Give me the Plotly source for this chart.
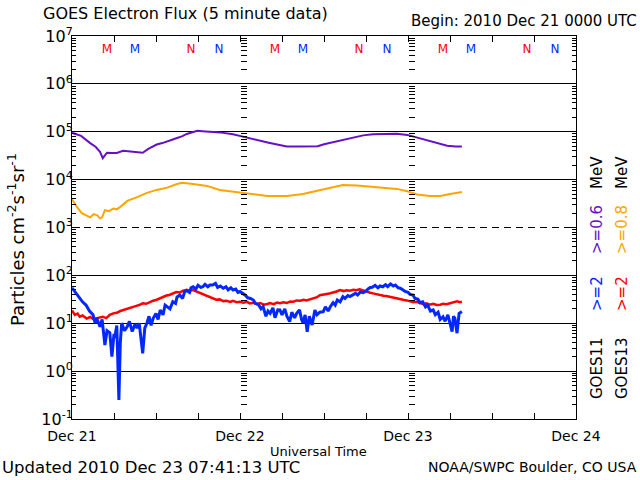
import pandas as pd
import plotly.graph_objects as go

START = pd.Timestamp("2010-12-21 00:00")
END = pd.Timestamp("2010-12-24 00:00")

# ---- data (hours after START, flux values) ----
purple_h = [0.0, 1.3, 2.6, 3.4, 4.0, 4.4, 4.7, 5.0, 5.6, 6.4, 7.3, 8.0, 8.7, 9.4, 10.1, 10.9, 11.5, 12.1, 12.9, 13.6, 14.3, 15.0,
            15.7, 16.4, 17.1, 17.9, 18.6, 19.3, 20.2, 21.1, 22.0, 23.0, 24.4, 25.6, 26.9, 28.1, 29.3, 30.7, 32.6, 35.1,
            36.0, 36.9, 38.3, 39.7, 41.6, 43.0, 45.0, 46.4, 47.9, 49.3, 50.7, 52.1, 53.6, 54.8, 55.7]
purple_v = [9.5e4, 8.2e4, 5.8e4, 4.8e4, 3.8e4, 2.8e4, 3.2e4, 3.65e4, 3.6e4, 3.6e4, 4.0e4, 3.9e4, 3.8e4, 3.7e4, 3.65e4, 4.4e4, 4.8e4,
            5.4e4, 5.8e4, 6.2e4, 6.8e4, 7.4e4, 8.0e4, 9.0e4, 9.6e4, 1.05e5, 1.03e5, 1.0e5, 9.9e4, 9.7e4, 9.3e4, 8.9e4, 7.9e4,
            7.1e4, 6.5e4, 5.9e4, 5.4e4, 4.9e4, 4.9e4, 5.0e4, 5.5e4, 5.9e4, 6.7e4, 7.5e4, 8.4e4, 8.9e4, 9.1e4, 9.1e4, 8.6e4,
            7.5e4, 6.6e4, 5.8e4, 5.1e4, 4.9e4, 4.9e4]

orange_h = [0.0, 0.7, 1.4, 2.0, 2.6, 3.1, 3.6, 4.0, 4.3, 4.7, 5.3, 5.9, 6.4, 6.9, 7.9, 9.3, 10.7, 12.1, 13.6, 15.0, 15.7, 17.3,
            19.3, 21.1, 23.0, 25.0, 27.9, 30.7, 33.0, 34.4, 36.4, 37.9, 38.7, 40.7, 42.6, 44.4, 46.4, 47.9, 49.3, 51.1,
            52.6, 54.0, 55.7]
orange_v = [3.9e3, 2.7e3, 2.0e3, 1.8e3, 1.63e3, 1.9e3, 1.8e3, 1.55e3, 1.63e3, 2.3e3, 2.2e3, 2.5e3, 2.4e3, 2.7e3, 3.6e3, 4.3e3,
            5.3e3, 6.1e3, 6.8e3, 8.1e3, 8.6e3, 8.1e3, 7.4e3, 6.1e3, 5.6e3, 5.2e3, 4.55e3, 4.55e3, 5.0e3, 5.6e3, 6.5e3, 7.1e3,
            7.7e3, 7.5e3, 7.1e3, 6.6e3, 6.4e3, 5.7e3, 4.9e3, 4.55e3, 4.55e3, 5.0e3, 5.5e3]

red_h = [0.0, 0.4, 0.8, 1.1, 1.5, 2.1, 2.6, 3.1, 3.6, 4.0, 4.4, 4.9, 5.4, 5.9, 6.4, 6.9, 7.3, 7.8, 8.2, 8.7, 9.2, 9.6, 10.1,
         10.6, 11.1, 11.6, 12.1, 12.5, 13.0, 13.5, 13.9, 14.4, 14.9, 15.4, 15.9, 16.4, 16.8, 17.3, 17.8, 18.2, 18.7, 19.2,
         19.6, 20.1, 20.6, 21.1, 21.6, 22.1, 22.6, 23.0, 23.5, 24.0, 24.5, 25.0, 25.4, 25.9, 26.4, 26.9, 27.4, 27.9, 28.3,
         28.8, 29.3, 29.7, 30.2, 30.7, 31.2, 31.6, 32.1, 32.6, 33.1, 33.5, 34.0, 34.5, 35.0, 35.4, 35.9, 36.4, 36.9, 37.4,
         37.8, 38.3, 38.8, 39.2, 39.7, 40.2, 40.6, 41.1, 41.6, 42.1, 42.6, 43.0, 43.5, 44.0, 44.5, 44.9, 45.4, 45.9, 46.4,
         46.9, 47.3, 47.8, 48.3, 48.8, 49.2, 49.7, 50.2, 50.6, 51.1, 51.6, 52.1, 52.6, 53.0, 53.5, 54.0, 54.5, 55.0, 55.4, 55.7]
red_v = [18.5, 15, 16, 13.7, 14.5, 12.5, 13.5, 12, 12.8, 13.5, 13.7, 12.8, 15, 16.1, 16.5, 18, 18.9, 20, 20.5, 22.2, 23, 24,
         26.1, 25.5, 28, 29.6, 31, 33, 35.9, 38, 39, 42.3, 45, 44, 47.9, 50, 48, 49.5, 46, 43, 40.8, 37, 35, 33.2, 31, 31.5,
         29, 29.6, 28, 29.5, 27.5, 28.2, 27, 28, 26, 26.9, 25, 26.5, 24.5, 25.2, 26.5, 25, 27, 26.1, 27.5, 26.5, 28.5, 28.2,
         30, 29.6, 31, 30, 31.6, 34, 35, 38.4, 39, 41, 42.3, 44, 46, 49.5, 47, 49, 47.9, 50, 49, 51.2, 48, 46, 43.5, 42, 40,
         38.9, 37.5, 37, 35.9, 34, 33.5, 32.1, 31, 30, 29.2, 27.5, 28, 26.1, 25, 26, 24.4, 25.5, 24, 24.4, 25.5, 25, 26.1,
         27, 28.7, 27.5, 28.2]

blue_h = [0.0, 0.5, 1.0, 1.5, 2.0, 2.5, 3.0, 3.3, 3.5, 4.0, 4.3, 4.7, 5.0, 5.4, 5.7, 6.0, 6.1, 6.4, 6.7, 6.9, 7.1, 7.5, 7.9,
          8.2, 8.6, 9.0, 9.3, 9.6, 10.1, 10.4, 10.7, 11.0, 11.3, 11.6, 12.0, 12.3, 12.6, 13.0, 13.3, 13.6, 14.0, 14.4, 14.8,
          15.0, 15.4, 15.8, 16.1, 16.4, 16.8, 17.0, 17.3, 17.7, 18.0, 18.4, 18.7, 19.0, 19.4, 19.7, 20.1, 20.5, 20.8, 21.2,
          21.6, 22.0, 22.3, 22.7, 23.0, 23.4, 23.7, 24.0, 24.4, 24.8, 25.1, 25.5, 25.9, 26.2, 26.6, 27.0, 27.3, 27.7, 28.0,
          28.3, 28.7, 29.0, 29.4, 29.7, 30.0, 30.4, 30.7, 31.1, 31.4, 31.8, 32.1, 32.5, 32.8, 33.0, 33.3, 33.6, 33.9, 34.3,
          34.7, 35.0, 35.4, 35.9, 36.2, 36.6, 36.9, 37.3, 37.6, 37.9, 38.3, 38.7, 39.0, 39.4, 39.7, 40.1, 40.5, 40.8, 41.2,
          41.6, 41.9, 42.3, 42.6, 42.9, 43.3, 43.7, 44.0, 44.4, 44.8, 45.1, 45.5, 45.9, 46.2, 46.6, 46.9, 47.3, 47.6, 48.0,
          48.3, 48.7, 49.0, 49.4, 49.7, 50.1, 50.5, 50.8, 51.2, 51.6, 51.9, 52.3, 52.6, 53.0, 53.3, 53.7, 54.0, 54.3, 54.5,
          54.7, 55.0, 55.3, 55.7]
blue_v = [55, 44, 36, 28, 24, 18, 15, 10, 13, 8.5, 12, 3.5, 7, 6.3, 2.0, 6, 4.9, 9, 0.25, 4, 10.1, 7, 8.5, 11, 6.7, 9.5, 7.9,
          10, 2.35, 8, 10, 14, 9, 12.7, 16, 12, 18.9, 15, 24, 22.2, 20, 28.2, 26, 35, 38.9, 33, 46, 47.9, 44, 55, 57.9, 52,
          62, 56, 57.9, 65, 58, 63, 62.9, 68, 56, 60, 53.7, 58, 50, 55, 49.5, 52, 44, 46, 42.3, 38, 34, 33, 30.6, 26, 25, 20,
          22.2, 14, 18, 16.1, 21, 13, 19, 18.9, 15, 20, 14, 10.8, 17, 13, 16.1, 19, 12, 10.1, 15, 6.6, 14, 9.2, 18.9, 15, 17,
          17.5, 22, 18, 22.2, 27, 24, 30.6, 28, 35.9, 33, 38, 36, 38.9, 42, 39, 45, 43.5, 46, 52, 56, 56.4, 62, 55, 60, 57.9,
          64, 58, 66, 60, 63, 55, 54, 49.5, 46, 44, 40, 38.9, 33, 32, 27, 28.2, 22, 24, 18, 18.9, 15, 17, 12, 13.7, 11, 15, 10,
          6.7, 14, 12.7, 6.2, 16.1, 17.5]

# local midnight (M) / noon (N) markers, hours after START
goes13_M = [5, 29, 53]
goes11_M = [9, 33, 57]
goes13_N = [17, 41, 65]
goes11_N = [21, 45, 69]

decades = [-1, 0, 1, 2, 3, 4, 5, 6, 7]
ytick_text = ["10<sup>-1</sup>", "10<sup>0</sup>", "10<sup>1</sup>", "10<sup>2</sup>", "10<sup>3</sup>",
              "10<sup>4</sup>", "10<sup>5</sup>", "10<sup>6</sup>", "10<sup>7</sup>"]

C_PURPLE = "#6610C8"
C_ORANGE = "#FFA500"
C_RED = "#FF0000"
C_BLUE = "#0028FF"
FONT = "DejaVu Sans"


def tx(hours):
    return [START + pd.Timedelta(hours=h) for h in hours]


fig = go.Figure()
for h, v, c, w in [(purple_h, purple_v, C_PURPLE, 2), (orange_h, orange_v, C_ORANGE, 2),
                   (red_h, red_v, C_RED, 2.5), (blue_h, blue_v, C_BLUE, 3)]:
    fig.add_trace(go.Scatter(x=tx(h), y=v, mode="lines", line=dict(color=c, width=w),
                             hoverinfo="skip", showlegend=False))

mn_y = 10 ** 6.71
for hrs, letter, c in [(goes13_M, "M", C_RED), (goes11_M, "M", C_BLUE),
                       (goes13_N, "N", C_RED), (goes11_N, "N", C_BLUE)]:
    fig.add_trace(go.Scatter(x=tx(hrs), y=[mn_y] * len(hrs), mode="text", text=[letter] * len(hrs),
                             textfont=dict(color=c, size=12, family=FONT), hoverinfo="skip",
                             showlegend=False))

tv = [10.0 ** d for d in decades]
minor_vals = [m * 10.0 ** d for d in decades[:-1] for m in range(2, 10)]
solid_grid = [10.0 ** d for d in [0, 1, 2, 4, 5, 6]]

# helper axes need a trace each (empty)
for ax in ["y2", "y3", "y4", "y5"]:
    fig.add_trace(go.Scatter(x=[], y=[], yaxis=ax, showlegend=False, hoverinfo="skip"))

common_y = dict(type="log", range=[-1, 7])

fig.update_layout(
    width=640, height=480, autosize=False,
    margin=dict(l=72, r=64, t=36, b=61),
    paper_bgcolor="white", plot_bgcolor="white",
    font=dict(family=FONT, color="black", size=14),
    showlegend=False,
    xaxis=dict(type="date", range=[START, END], showgrid=False, zeroline=False,
               showline=True, linecolor="black", linewidth=1, mirror="allticks",
               ticks="inside", ticklen=6, tickcolor="black", dtick=86400000,
               tick0=START, tickformat="%b %d", tickfont=dict(size=14),
               ticklabelstandoff=4,
               minor=dict(ticks="inside", ticklen=6, dtick=21600000, tick0=START, tickcolor="black",
                          showgrid=False)),
    yaxis=dict(**common_y, showgrid=False, zeroline=False, showline=True, linecolor="black",
               linewidth=1, mirror="allticks", ticks="inside", ticklen=8, tickcolor="black",
               tickmode="array", tickvals=tv, ticktext=ytick_text, tickfont=dict(size=16),
               ticklabelstandoff=-5,
               minor=dict(tickmode="array", tickvals=minor_vals, ticks="inside", ticklen=4,
                          tickcolor="black", showgrid=False)),
    yaxis2=dict(**common_y, overlaying="y", anchor="x", showticklabels=False, ticks="",
                tickmode="array", tickvals=solid_grid, showgrid=True, gridcolor="black",
                gridwidth=1, zeroline=False, showline=False),
    yaxis3=dict(**common_y, overlaying="y", anchor="x", showticklabels=False, ticks="",
                tickmode="array", tickvals=[1000.0], showgrid=True, gridcolor="black",
                gridwidth=1, griddash="7px,5px", zeroline=False, showline=False),
    yaxis4=dict(**common_y, overlaying="y", anchor="free", position=1 / 3, side="left",
                showticklabels=False, showline=False, showgrid=False, zeroline=False,
                ticks="inside", ticklen=6, tickcolor="black", tickmode="array", tickvals=tv,
                minor=dict(tickmode="array", tickvals=minor_vals, ticks="inside", ticklen=6,
                           tickcolor="black", showgrid=False)),
    yaxis5=dict(**common_y, overlaying="y", anchor="free", position=2 / 3, side="left",
                showticklabels=False, showline=False, showgrid=False, zeroline=False,
                ticks="inside", ticklen=6, tickcolor="black", tickmode="array", tickvals=tv,
                minor=dict(tickmode="array", tickvals=minor_vals, ticks="inside", ticklen=6,
                           tickcolor="black", showgrid=False)),
)


def px_x(p):
    return (p - 72) / 504.0


def px_y(p):
    return (419 - p) / 383.0


annots = [
    dict(text="GOES Electron Flux (5 minute data)", x=px_x(41), y=px_y(14), xanchor="left", yanchor="middle",
         font=dict(size=16)),
    dict(text="Begin: 2010 Dec 21 0000 UTC", x=px_x(639), y=px_y(21), xanchor="right", yanchor="middle",
         font=dict(size=15)),
    dict(text="Universal Time", x=px_x(318), y=px_y(451), xanchor="center", yanchor="middle",
         font=dict(size=13)),
    dict(text="Updated 2010 Dec 23 07:41:13 UTC", x=px_x(0), y=px_y(467), xanchor="left", yanchor="middle",
         font=dict(size=16.5)),
    dict(text="NOAA/SWPC Boulder, CO USA", x=px_x(639), y=px_y(467), xanchor="right", yanchor="middle",
         font=dict(size=14)),
    dict(text="Particles cm<sup>-2</sup>s<sup>-1</sup>sr<sup>-1</sup>", x=px_x(16), y=px_y(240),
         xanchor="center", yanchor="middle", textangle=-90, font=dict(size=18)),
]

legend_items = [
    (597, 368, "GOES11", "black"), (597, 294, "&gt;=2", C_BLUE), (597, 230, "&gt;=0.6", C_PURPLE),
    (597, 173, "MeV", "black"),
    (622, 368, "GOES13", "black"), (622, 294, "&gt;=2", C_RED), (622, 230, "&gt;=0.8", C_ORANGE),
    (622, 173, "MeV", "black"),
]
for xp, yp, t, c in legend_items:
    annots.append(dict(text=t, x=px_x(xp), y=px_y(yp), xanchor="center", yanchor="middle", textangle=-90,
                       font=dict(size=15, color=c)))

for a in annots:
    a.update(xref="paper", yref="paper", showarrow=False)
fig.update_layout(annotations=annots)

fig.write_html("out.html", config={"displayModeBar": False},
               post_script="document.body.style.margin='0px';document.body.style.overflow='hidden';")
